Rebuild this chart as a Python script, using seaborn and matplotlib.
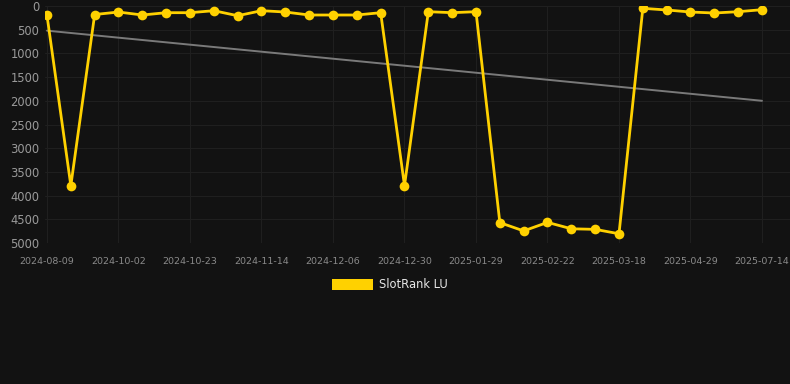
import matplotlib
matplotlib.use("Agg")
import matplotlib.pyplot as plt
import matplotlib.patches as mpatches
import seaborn as sns
import pandas as pd
import numpy as np

dates = ["2024-08-09", "2024-08-27", "2024-09-14", "2024-10-02", "2024-10-09", "2024-10-16",
         "2024-10-23", "2024-10-30", "2024-11-07", "2024-11-14", "2024-11-21", "2024-11-28",
         "2024-12-06", "2024-12-14", "2024-12-22", "2024-12-30", "2025-01-09", "2025-01-19",
         "2025-01-29", "2025-02-06", "2025-02-14", "2025-02-22", "2025-03-02", "2025-03-10",
         "2025-03-18", "2025-04-01", "2025-04-15", "2025-04-29", "2025-05-24", "2025-06-19",
         "2025-07-14"]
rank = [200, 3790, 180, 127, 190, 141, 141, 99, 205, 99, 127, 190, 190, 190, 141, 3790,
        120, 141, 120, 4570, 4745, 4565, 4700, 4712, 4805, 49, 84, 127, 148, 120, 78]
trend_start = 520
trend_end = 2000
series_name = "SlotRank LU"
yticks = list(range(0, 5001, 500))

bg = "#121212"
yellow = "#FFD100"

sns.set_style("dark")
plt.rcParams["font.family"] = ["DejaVu Sans"]

fig = plt.figure(figsize=(7.9, 3.84), dpi=100, facecolor=bg)
ax = fig.add_axes([45 / 790, (384 - 243) / 384, (790 - 45) / 790, (243 - 6) / 384])
ax.set_facecolor(bg)

df = pd.DataFrame({"idx": np.arange(len(dates)), "rank": rank, "date": dates})
n = len(dates)

# trend line
ax.plot([0, n - 1], [trend_start, trend_end], color="#7a7a7a", lw=1.4, zorder=2)

sns.lineplot(data=df, x="idx", y="rank", ax=ax, color=yellow, lw=2.0,
             marker="o", markersize=7, markeredgewidth=0, zorder=3,
             solid_joinstyle="miter")

ax.set_ylim(5000, 0)
ax.set_xlim(-2 / 23.83, (n - 1) + 28 / 23.83)
ax.set_yticks(yticks)
ax.set_yticklabels([str(v) for v in yticks])
tick_idx = list(range(0, n, 3))
ax.set_xticks(tick_idx)
ax.set_xticklabels([dates[i] for i in tick_idx])

ax.grid(True, color="#1f1f1f", lw=0.8)
for s in ax.spines.values():
    s.set_visible(False)
ax.tick_params(axis="y", colors="#9a9a9a", labelsize=8.3, length=0, pad=4)
ax.tick_params(axis="x", colors="#8a8a8a", labelsize=6.8, length=0, pad=10)
ax.set_xlabel("")
ax.set_ylabel("")

handle = mpatches.Rectangle((0, 0), 1, 1, facecolor=yellow, edgecolor="none")
fig.legend([handle], [series_name], loc="center", bbox_to_anchor=(390 / 790, 1 - 285 / 384),
           frameon=False, labelcolor="#e6e6e6", fontsize=8.3, handlelength=3.6,
           handleheight=1.1, handletextpad=0.5)

fig.savefig("out.png", dpi=100, facecolor=bg)
